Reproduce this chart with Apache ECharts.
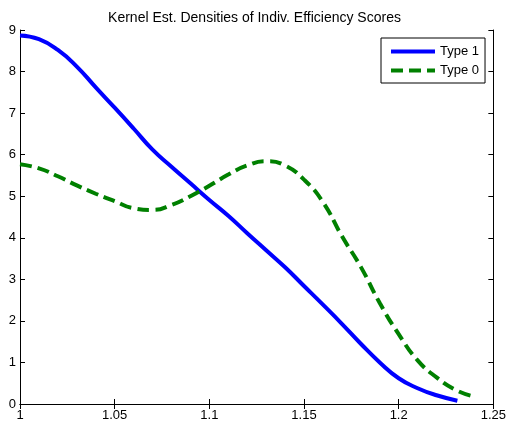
<!DOCTYPE html>
<html>
<head>
<meta charset="utf-8">
<script src="https://cdn.jsdelivr.net/npm/echarts@6/dist/echarts.min.js"></script>
<style>
  html, body { margin: 0; padding: 0; background: #fff; }
  #container { width: 509px; height: 428px; }
</style>
</head>
<body>
<div id="container"></div>
<script>
var dom = document.getElementById('container');
var myChart = echarts.init(dom, null, { renderer: 'canvas' });

// values
var xType1 = [1.00, 1.01, 1.02, 1.03, 1.04, 1.05, 1.06, 1.07, 1.08, 1.09, 1.10, 1.11,
              1.12, 1.13, 1.14, 1.15, 1.16, 1.17, 1.18, 1.19, 1.20, 1.21, 1.22, 1.231];
var yType1 = [8.87, 8.78, 8.52, 8.12, 7.62, 7.13, 6.63, 6.12, 5.71, 5.31, 4.91, 4.53,
              4.11, 3.70, 3.29, 2.84, 2.39, 1.93, 1.45, 1.00, 0.62, 0.38, 0.21, 0.08];

var xType0 = [1.00, 1.01, 1.02, 1.03, 1.04, 1.05, 1.06, 1.07, 1.08, 1.09, 1.10, 1.11,
              1.12, 1.13, 1.14, 1.15, 1.16, 1.17, 1.18, 1.19, 1.20, 1.21, 1.22, 1.23, 1.238];
var yType0 = [5.77, 5.67, 5.48, 5.26, 5.06, 4.88, 4.71, 4.67, 4.79, 5.00, 5.25, 5.52,
              5.74, 5.84, 5.74, 5.40, 4.86, 4.04, 3.30, 2.43, 1.68, 1.05, 0.64, 0.34, 0.20];

var xTicks = [1, 1.05, 1.1, 1.15, 1.2, 1.25];
var yTicks = [0, 1, 2, 3, 4, 5, 6, 7, 8, 9];

function pairs(xs, ys) {
    return xs.map(function (x, i) { return [x, ys[i]]; });
}

var font = 'Liberation Sans, Arial, sans-serif';

var xBase = {
    type: 'value',
    min: xTicks[0],
    max: xTicks[xTicks.length - 1],
    interval: 0.05,
    splitLine: { show: false },
    axisLine: { show: true, lineStyle: { color: '#000', width: 1 } },
    axisTick: { show: true, inside: true, length: 5, lineStyle: { color: '#000' } }
};
var yBase = {
    type: 'value',
    min: yTicks[0],
    max: yTicks[yTicks.length - 1],
    interval: 1,
    splitLine: { show: false },
    axisLine: { show: true, lineStyle: { color: '#000', width: 1 } },
    axisTick: { show: true, inside: true, length: 5, lineStyle: { color: '#000' } }
};

var option = {
    animation: false,
    backgroundColor: '#fff',
    title: {
        text: 'Kernel Est. Densities of Indiv. Efficiency Scores',
        left: 'center',
        top: 6,
        textStyle: { fontFamily: font, fontSize: 14, fontWeight: 'normal', color: '#000' }
    },
    grid: { left: 20, right: 15, top: 30, bottom: 24 },
    legend: {
        left: 381,
        top: 38,
        orient: 'vertical',
        backgroundColor: '#fff',
        borderColor: '#000',
        borderWidth: 1,
        borderRadius: 0,
        padding: [7, 6, 6, 8],
        itemWidth: 44,
        itemHeight: 10,
        itemGap: 6,
        itemStyle: { opacity: 0 },
        lineStyle: { width: 4 },
        textStyle: { fontFamily: font, fontSize: 13, color: '#000' },
        data: ['Type 1', 'Type 0']
    },
    xAxis: [
        Object.assign({}, xBase, {
            position: 'bottom',
            axisLabel: { color: '#000', fontFamily: font, fontSize: 13, margin: 5 }
        }),
        Object.assign({}, xBase, { position: 'top', axisLabel: { show: false } })
    ],
    yAxis: [
        Object.assign({}, yBase, {
            position: 'left',
            axisLabel: { color: '#000', fontFamily: font, fontSize: 13, margin: 4 }
        }),
        Object.assign({}, yBase, { position: 'right', axisLabel: { show: false } })
    ],
    series: [
        {
            name: 'Type 1',
            type: 'line',
            smooth: true,
            symbol: 'none',
            data: pairs(xType1, yType1),
            itemStyle: { color: '#0000ff' },
            lineStyle: { color: '#0000ff', width: 4 }
        },
        {
            name: 'Type 0',
            type: 'line',
            smooth: true,
            symbol: 'none',
            data: pairs(xType0, yType0),
            itemStyle: { color: '#008000' },
            lineStyle: { color: '#008000', width: 4, type: [12, 6] }
        }
    ]
};

myChart.setOption(option);
window.addEventListener('resize', myChart.resize);
</script>
</body>
</html>
